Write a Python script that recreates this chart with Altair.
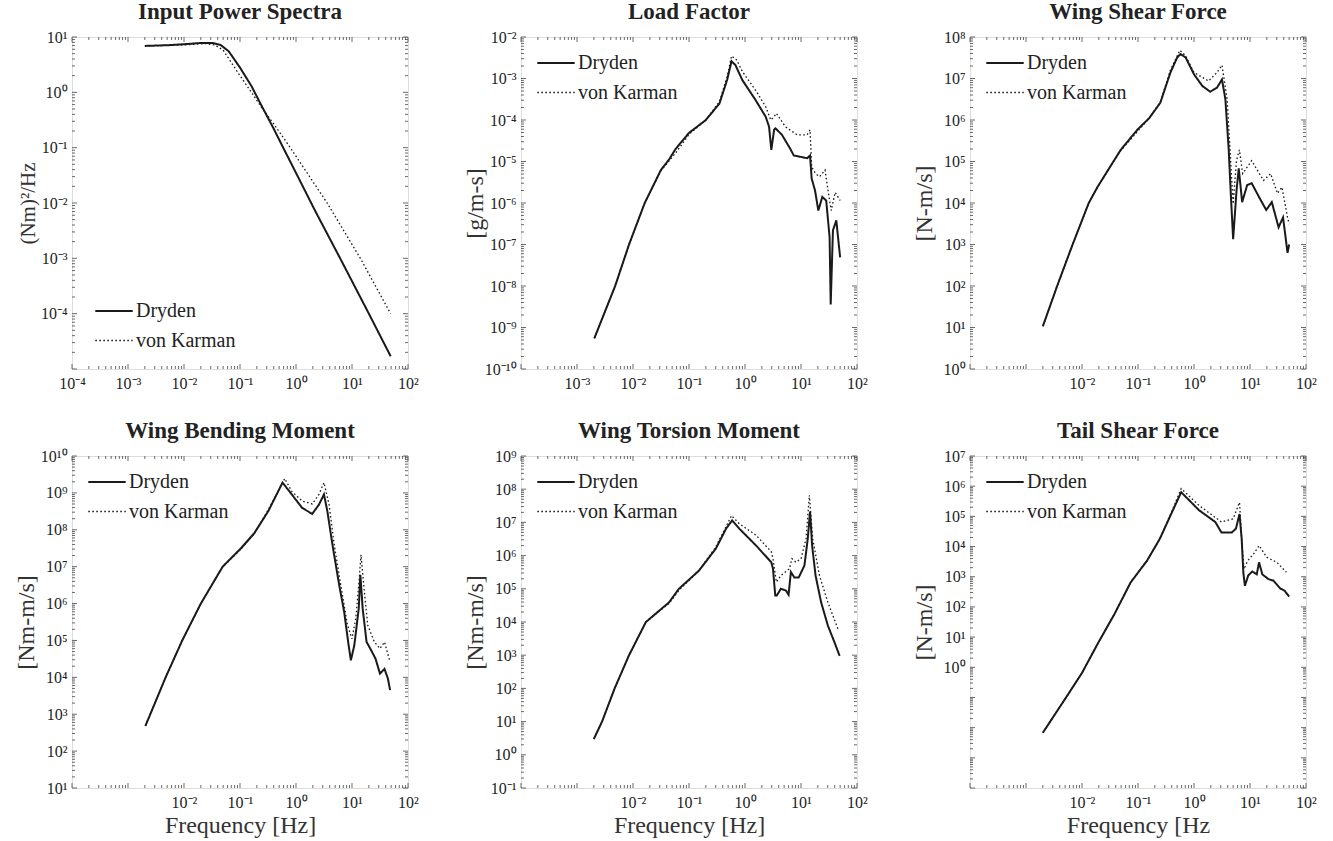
import altair as alt
import pandas as pd

# ---------------- data ----------------
# Input Power Spectra
ips_dry_f = [0.002, 0.005, 0.01, 0.02, 0.032, 0.045, 0.063, 0.1, 0.16, 0.25, 0.4, 0.59, 1.0, 2.2, 6.6, 20, 49]
ips_dry_v = [6.9, 7.1, 7.4, 7.8, 7.8, 7.2, 5.5, 2.8, 1.3, 0.54, 0.22, 0.1, 0.035, 0.0072, 8.7e-4, 1.0e-4, 1.7e-5]
ips_vk_f = [0.002, 0.01, 0.025, 0.035, 0.05, 0.072, 0.1, 0.16, 0.25, 0.4, 0.79, 3.6, 14.1, 49]
ips_vk_v = [6.9, 7.2, 7.6, 7.2, 5.8, 3.3, 2.0, 1.0, 0.51, 0.27, 0.1, 0.01, 1.0e-3, 1.0e-4]

# Load Factor
lf_dry_f = [0.00204, 0.0048, 0.0085, 0.0162, 0.0316, 0.0437, 0.0575, 0.1, 0.2, 0.35, 0.48, 0.575,
            0.676, 0.89, 1.55, 2.34, 2.69, 2.95, 3.31, 3.5, 4.57, 6.46, 7.41, 12.9, 14.5, 15.5, 17.8, 20.4,
            24.0, 28.2, 32.4, 33.9, 37.2, 42.7, 50]
lf_dry_v = [5.5e-10, 1e-8, 1e-7, 1e-6, 6.3e-6, 1.1e-5, 2.0e-5, 4.9e-5, 1e-4, 2.5e-4, 9.3e-4, 2.6e-3,
            2.1e-3, 9.3e-4, 3.0e-4, 1.2e-4, 6.9e-5, 1.9e-5, 5.8e-5, 6.3e-5, 4.4e-5, 2.0e-5, 1.4e-5, 1.2e-5,
            1.4e-5, 3.9e-6, 2.0e-6, 6.6e-7, 1.4e-6, 1.15e-6, 1.5e-7, 3.6e-9, 2.2e-7, 3.8e-7, 4.9e-8]
lf_vk_f = [0.00204, 0.0048, 0.0085, 0.0162, 0.0316, 0.0575, 0.1, 0.2, 0.35, 0.48, 0.575, 0.71,
           0.89, 1.55, 2.34, 2.88, 3.31, 3.63, 5.25, 8.5, 12.9, 14.5, 15.5, 18.2, 21.4, 26.9, 31.6, 34.7,
           40.7, 50]
lf_vk_v = [5.5e-10, 1e-8, 1e-7, 1e-6, 6.0e-6, 1.6e-5, 4.5e-5, 1e-4, 2.8e-4, 1.1e-3, 3.5e-3, 2.8e-3,
           1.5e-3, 5.2e-4, 2.1e-4, 1e-4, 1.2e-4, 1.45e-4, 6.9e-5, 4.4e-5, 4.4e-5, 5.8e-5, 7.4e-6, 5.1e-6,
           4.3e-6, 6.2e-6, 1.4e-6, 6.6e-7, 1.8e-6, 1.15e-6]

# Wing Shear Force
wsf_dry_f = [0.002, 0.0036, 0.0068, 0.0132, 0.019, 0.033, 0.049, 0.098, 0.158, 0.25, 0.38, 0.5, 0.575,
             0.71, 1.0, 1.41, 1.95, 2.57, 3.16, 3.63, 4.17, 4.57, 5.0, 5.75, 6.3, 7.24, 8.9, 10.7, 15.1,
             19.5, 24.5, 32.4, 38.9, 46.8, 50]
wsf_dry_v = [10.7, 100, 1000, 1e4, 2.45e4, 8.1e4, 1.9e5, 5.9e5, 1.1e6, 2.6e6, 1.4e7, 3.2e7, 3.9e7, 3.2e7,
             1.26e7, 6.6e6, 4.8e6, 6.0e6, 9.5e6, 3.2e6, 1.9e5, 1.4e4, 1.35e3, 2.0e4, 6.8e4, 1.05e4, 2.7e4,
             3.0e4, 1.26e4, 6.8e3, 1.05e4, 2.6e3, 4.5e3, 630, 1000]
wsf_vk_f = [0.002, 0.0036, 0.0068, 0.0132, 0.019, 0.033, 0.049, 0.098, 0.158, 0.25, 0.38, 0.56, 0.71, 1.0,
            1.82, 2.57, 3.16, 3.9, 4.47, 5.0, 5.75, 6.46, 7.41, 10.7, 17.4, 23.4, 30.9, 37.2, 46.8, 50]
wsf_vk_v = [10.7, 100, 1000, 1e4, 2.45e4, 8.1e4, 1.8e5, 5.3e5, 1.1e6, 2.7e6, 1.6e7, 4.8e7, 3.5e7, 1.4e7,
            8.7e6, 1.4e7, 2.1e7, 3.2e6, 1.3e5, 9.5e3, 1.07e5, 1.9e5, 5.1e4, 1.05e5, 3.5e4, 5.1e4, 1.7e4,
            2.4e4, 4.5e3, 3.1e3]

# Wing Bending Moment
wbm_dry_f = [0.00204, 0.0025, 0.0047, 0.0093, 0.02, 0.049, 0.105, 0.18, 0.32, 0.575, 0.84, 1.29, 1.95,
             2.57, 3.16, 3.63, 4.47, 5.9, 7.24, 8.7, 9.55, 11.0, 13.2, 14.1, 15.5, 18.2, 21.9, 26.3, 31.6,
             38.0, 43.7, 47.9]
wbm_dry_v = [480, 1e3, 1e4, 1e5, 1e6, 1e7, 3.2e7, 8.1e7, 3.2e8, 1.9e9, 9.1e8, 3.9e8, 2.7e8, 4.8e8, 9.1e8,
             3.2e8, 4.0e7, 3.2e6, 6.0e5, 7.4e4, 2.9e4, 7.4e4, 7.4e5, 6.0e6, 7.4e5, 9.1e4, 5.5e4, 3.2e4,
             1.26e4, 1.7e4, 9.3e3, 4.5e3]
wbm_vk_f = [0.00204, 0.0025, 0.0047, 0.0093, 0.02, 0.049, 0.1, 0.18, 0.32, 0.63, 0.84, 1.29, 1.95, 2.57,
            3.16, 3.9, 4.8, 6.3, 8.3, 10.0, 11.7, 13.5, 14.5, 16.6, 19.1, 25.1, 31.6, 38.0, 47.9]
wbm_vk_v = [480, 1e3, 1e4, 1e5, 1e6, 1e7, 2.8e7, 7.9e7, 3.5e8, 2.45e9, 1.1e9, 6.0e8, 5.0e8, 9.1e8, 1.9e9,
            4.8e8, 4.0e7, 3.2e6, 2.6e5, 1.1e5, 4.0e5, 4.9e6, 2.1e7, 2.1e6, 2.6e5, 9.1e4, 6.0e4, 9.1e4, 2.6e4]

# Wing Torsion Moment
wtm_dry_f = [0.002, 0.0028, 0.0047, 0.0085, 0.017, 0.044, 0.066, 0.15, 0.3, 0.46, 0.59, 0.79, 1.58, 2.95,
             3.16, 3.47, 3.7, 4.37, 5.37, 6.0, 6.6, 7.6, 9.1, 11.5, 13.2, 14.5, 15.8, 18.2, 22.9, 30.2,
             39.8, 49]
wtm_dry_v = [3.0, 10, 100, 1e3, 1e4, 3.9e4, 1e5, 3.5e5, 1.6e6, 6.5e6, 1.15e7, 6.5e6, 2.0e6, 6.3e5, 4.0e5,
             6.3e4, 6.3e4, 1.0e5, 8.9e4, 6.6e4, 3.2e5, 2.2e5, 2.2e5, 5.0e5, 3.2e6, 2.1e7, 2.0e6, 2.5e5,
             3.9e4, 7.8e3, 2.4e3, 950]
wtm_vk_f = [0.002, 0.0028, 0.0047, 0.0085, 0.017, 0.044, 0.066, 0.15, 0.3, 0.575, 0.79, 1.58, 2.95, 3.16,
            3.63, 4.37, 6.2, 6.9, 8.1, 10.0, 12.3, 14.1, 16.2, 21.4, 30.2, 45.7]
wtm_vk_v = [3.0, 10, 100, 1e3, 1e4, 3.6e4, 9e4, 3.5e5, 1.8e6, 1.6e7, 9.1e6, 4.1e6, 1.3e6, 8.1e5, 1.6e5,
            2.5e5, 4.0e5, 8.1e5, 6.3e5, 8.1e5, 3.2e6, 6.6e7, 3.2e6, 2.5e5, 3.9e4, 6.2e3]

# Tail Shear Force
tsf_dry_f = [0.002, 0.0051, 0.01, 0.0195, 0.038, 0.074, 0.145, 0.245, 0.42, 0.59, 1.23, 2.4, 3.1, 4.7,
             5.6, 6.5, 7.1, 7.6, 8.1, 9.3, 11.0, 13.2, 14.5, 16.6, 21.4, 26.3, 34.7, 41.7, 50]
tsf_dry_v = [6.8e-3, 0.095, 0.65, 6.5, 58, 650, 3.4e3, 1.8e4, 1.6e5, 6.3e5, 1.6e5, 6.5e4, 2.9e4, 2.9e4,
             3.9e4, 1.2e5, 1.8e4, 1.4e3, 500, 1.1e3, 1.5e3, 1.2e3, 3.0e3, 1.2e3, 830, 740, 410, 340, 220]
tsf_vk_f = [0.002, 0.0051, 0.01, 0.0195, 0.038, 0.074, 0.145, 0.245, 0.42, 0.59, 1.23, 3.1, 5.0, 6.5, 7.1,
            7.8, 9.1, 11.7, 14.5, 20, 30.2, 44.7]
tsf_vk_v = [6.8e-3, 0.095, 0.65, 6.5, 58, 650, 3.4e3, 1.8e4, 1.8e5, 8.3e5, 2.3e5, 6.5e4, 8.3e4, 2.9e5,
            1.8e4, 1.8e3, 3.4e3, 5.8e3, 1.07e4, 4.4e3, 3.0e3, 1.4e3]

SERIES = ["Dryden", "von Karman"]

# ---------------- styling ----------------
FONT = "Liberation Serif"
INK = "#1a1a1a"
W, H = 336, 332
SUP = {"-": "\u207b", "0": "\u2070", "1": "\u00b9", "2": "\u00b2", "3": "\u00b3", "4": "\u2074",
       "5": "\u2075", "6": "\u2076", "7": "\u2077", "8": "\u2078", "9": "\u2079"}
exp_expr = "(''+round(log(datum.value)/LN10))"
for k, v in SUP.items():
    exp_expr = f"replace({exp_expr}, '{k}', '{v}')"
LABEL_EXPR = "'10' + " + exp_expr


def decades(lo, hi):
    major = [10.0 ** k for k in range(lo, hi + 1)]
    minor = [m * 10.0 ** k for k in range(lo, hi) for m in range(2, 10)]
    return major, minor


def panel(title, ytitle, xtitle, fd, vd, fk, vk, xexp, yexp, xlab, ylab, leg_xy, ytsize=24):
    df = pd.concat([
        pd.DataFrame({"f": fd, "y": vd, "s": SERIES[0], "i": range(len(fd))}),
        pd.DataFrame({"f": fk, "y": vk, "s": SERIES[1], "i": range(len(fk))}),
    ])
    xs = alt.Scale(type="log", domain=[10.0 ** xexp[0], 10.0 ** xexp[1]], nice=False)
    ys = alt.Scale(type="log", domain=[10.0 ** yexp[0], 10.0 ** yexp[1]], nice=False)
    xaxis = alt.Axis(values=[10.0 ** k for k in xlab], labelExpr=LABEL_EXPR, ticks=False, domain=False,
                     grid=False, labelPadding=6, labelFontSize=16, labelFont=FONT, labelColor="#222",
                     labelFlush=False, titleFont=FONT, titleFontSize=24, titleFontWeight="normal",
                     titleColor="#333", titlePadding=3)
    yaxis = alt.Axis(values=[10.0 ** k for k in ylab], labelExpr=LABEL_EXPR, ticks=False, domain=False,
                     grid=False, labelPadding=5, labelFontSize=16, labelFont=FONT, labelColor="#222",
                     labelFlush=False, minExtent=33, maxExtent=33, titleFont=FONT, titleFontSize=ytsize,
                     titleFontWeight="normal", titleColor="#333", titlePadding=1)
    X = alt.X("f:Q", scale=xs, axis=xaxis, title=xtitle)
    Y = alt.Y("y:Q", scale=ys, axis=yaxis, title=ytitle)
    line = alt.Chart(df).mark_line(clip=True, color=INK).encode(
        x=X,
        y=Y,
        order=alt.Order("i:Q"),
        strokeDash=alt.StrokeDash(
            "s:N",
            scale=alt.Scale(domain=SERIES, range=[[1, 0], [1.6, 2.4]]),
            legend=alt.Legend(orient="none", legendX=leg_xy[0], legendY=leg_xy[1], title=None,
                              symbolType="stroke", symbolSize=1400, symbolStrokeWidth=1.8,
                              symbolStrokeColor=INK, labelFont=FONT, labelFontSize=20,
                              labelColor="#222", labelOffset=2, rowPadding=0, padding=0),
        ),
        strokeWidth=alt.StrokeWidth("s:N", scale=alt.Scale(domain=SERIES, range=[2.0, 1.3]), legend=None),
    )
    xmaj, xmin = decades(*xexp)
    ymaj, ymin = decades(*yexp)
    layers = [line]
    for vals, ln in ((xmaj, 5), (xmin, 3)):
        d = pd.DataFrame({"f": vals})
        for y0, y1 in ((H, H - ln), (0, ln)):
            layers.append(alt.Chart(d).mark_rule(color="#444", strokeWidth=0.8).encode(
                x=X, y=alt.value(y0), y2=alt.value(y1)))
    for vals, ln in ((ymaj, 5), (ymin, 3)):
        d = pd.DataFrame({"y": vals})
        for x0, x1 in ((0, ln), (W, W - ln)):
            layers.append(alt.Chart(d).mark_rule(color="#444", strokeWidth=0.8).encode(
                y=Y, x=alt.value(x0), x2=alt.value(x1)))
    return alt.layer(*layers).properties(
        width=W, height=H,
        title=alt.TitleParams(title, font=FONT, fontSize=23, fontWeight="bold", color="#222", offset=5),
    )


LEG = (15, 6)
p1 = panel("Input Power Spectra", "(Nm)\u00b2/Hz", None, ips_dry_f, ips_dry_v, ips_vk_f, ips_vk_v,
           (-4, 2), (-5, 1), range(-4, 3), range(-4, 2), (22, 254), ytsize=21)
p2 = panel("Load Factor", "[g/m-s]", None, lf_dry_f, lf_dry_v, lf_vk_f, lf_vk_v,
           (-4, 2), (-10, -2), range(-3, 3), range(-10, -1), LEG)
p3 = panel("Wing Shear Force", "[N-m/s]", None, wsf_dry_f, wsf_dry_v, wsf_vk_f, wsf_vk_v,
           (-4, 2), (0, 8), range(-2, 3), range(0, 9), LEG)
p4 = panel("Wing Bending Moment", "[Nm-m/s]", "Frequency [Hz]", wbm_dry_f, wbm_dry_v, wbm_vk_f, wbm_vk_v,
           (-4, 2), (1, 10), range(-2, 3), range(1, 11), LEG)
p5 = panel("Wing Torsion Moment", "[Nm-m/s]", "Frequency [Hz]", wtm_dry_f, wtm_dry_v, wtm_vk_f, wtm_vk_v,
           (-4, 2), (-1, 9), range(-2, 3), range(-1, 10), LEG)
p6 = panel("Tail Shear Force", "[N-m/s]", "Frequency [Hz", tsf_dry_f, tsf_dry_v, tsf_vk_f, tsf_vk_v,
           (-4, 2), (-4, 7), range(-2, 3), range(0, 8), LEG)

chart = alt.concat(p1, p2, p3, p4, p5, p6, columns=3, spacing={"row": 27, "column": 43}).resolve_scale(
    strokeDash="independent", strokeWidth="independent"
).resolve_legend(strokeDash="independent").properties(
    padding={"left": 13, "top": 0, "right": 5, "bottom": 5}
).configure_view(stroke="#333", strokeWidth=1).configure(background="white")

chart.save("out.html", embed_options={"renderer": "svg", "actions": False})
